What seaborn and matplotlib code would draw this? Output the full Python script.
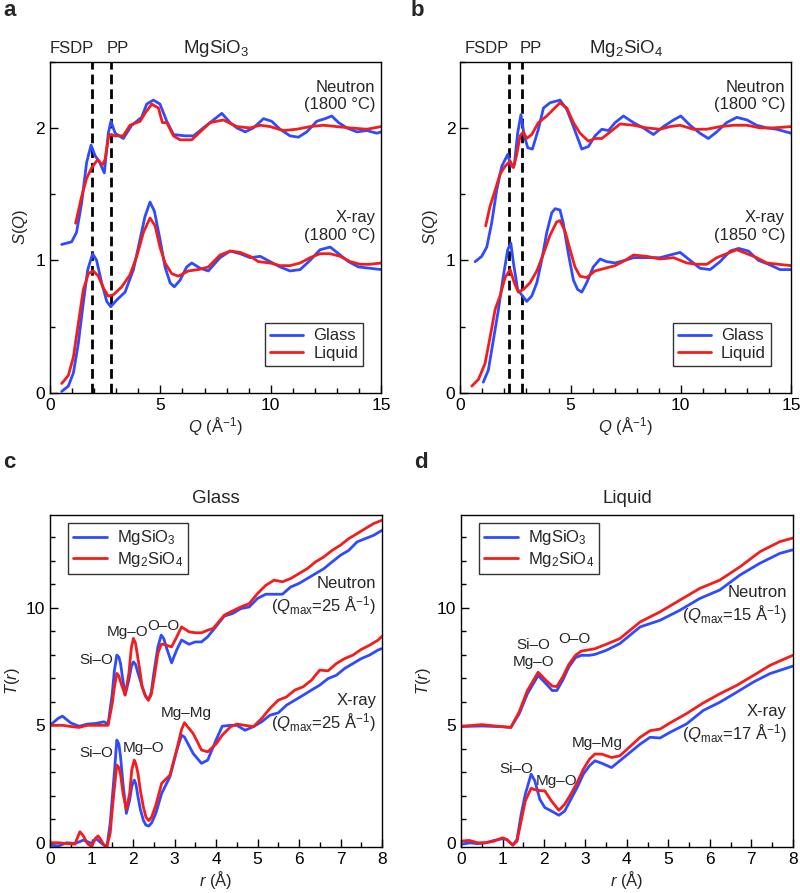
import matplotlib
matplotlib.use("Agg")
import matplotlib.pyplot as plt
from matplotlib.lines import Line2D
from matplotlib.ticker import MultipleLocator
import seaborn as sns

# ---------------- S(Q) : MgSiO3 (panel a) ----------------
a_neu_glass_q = [0.53, 0.98, 1.2, 1.43, 1.66, 1.86, 2.04, 2.22, 2.46, 2.64, 2.76, 2.95, 3.32, 3.7, 4.15, 4.38,
                 4.68, 4.98, 5.29, 5.59, 6.12, 6.5, 6.87, 7.25, 7.78, 8.16, 8.46, 8.84, 9.21, 9.67, 10.04,
                 10.42, 10.87, 11.25, 11.63, 12.08, 12.46, 12.76, 13.07, 13.44, 13.9, 14.35, 14.8, 15.0]
a_neu_glass_s = [1.12, 1.14, 1.21, 1.43, 1.74, 1.87, 1.79, 1.75, 1.66, 1.96, 2.05, 1.96, 1.92, 2.02, 2.08, 2.18,
                 2.21, 2.18, 2.05, 1.95, 1.94, 1.94, 1.99, 2.04, 2.11, 2.04, 2.0, 1.97, 2.0, 2.07, 2.05,
                 1.99, 1.94, 1.93, 1.97, 2.05, 2.07, 2.09, 2.04, 2.0, 1.97, 1.98, 1.96, 1.97]
a_neu_liq_q = [1.16, 1.43, 1.66, 1.89, 2.16, 2.37, 2.49, 2.67, 2.95, 3.32, 3.62, 4.08, 4.3, 4.61, 4.91, 5.09,
               5.29, 5.59, 5.89, 6.42, 6.8, 7.25, 7.85, 8.46, 9.06, 9.52, 9.97, 10.57, 11.17, 11.78, 12.38,
               12.99, 13.6, 14.35, 15.0]
a_neu_liq_s = [1.28, 1.48, 1.62, 1.70, 1.76, 1.72, 1.76, 1.95, 1.94, 1.94, 2.02, 2.05, 2.11, 2.18, 2.15, 2.04,
               2.04, 1.94, 1.91, 1.91, 1.97, 2.04, 2.06, 2.01, 2.0, 2.02, 2.01, 1.98, 1.99, 2.01, 2.02,
               2.01, 2.0, 1.99, 2.01]
a_xr_glass_q = [0.53, 0.83, 1.06, 1.28, 1.51, 1.71, 1.93, 2.11, 2.34, 2.57, 2.75, 3.02, 3.4, 3.78, 4.08, 4.3,
                4.53, 4.73, 4.98, 5.21, 5.44, 5.63, 5.89, 6.19, 6.42, 6.8, 7.17, 7.7, 8.16, 8.61, 9.06, 9.52,
                9.97, 10.42, 10.87, 11.33, 11.78, 12.23, 12.69, 13.07, 13.52, 13.97, 14.5, 15.0]
a_xr_glass_s = [0.01, 0.05, 0.15, 0.37, 0.68, 0.93, 1.05, 1.0, 0.83, 0.69, 0.65, 0.70, 0.76, 0.93, 1.16, 1.33,
                1.44, 1.37, 1.16, 0.95, 0.83, 0.80, 0.85, 0.95, 0.98, 0.94, 0.92, 1.02, 1.07, 1.05, 1.02, 1.03,
                0.99, 0.95, 0.92, 0.93, 1.0, 1.08, 1.10, 1.05, 0.99, 0.95, 0.94, 0.93]
a_xr_liq_q = [0.53, 0.83, 1.06, 1.28, 1.51, 1.74, 1.96, 2.19, 2.42, 2.64, 2.87, 3.25, 3.62, 3.93, 4.23, 4.53,
              4.76, 4.98, 5.21, 5.51, 5.81, 6.27, 6.72, 7.17, 7.7, 8.16, 8.61, 9.06, 9.44, 9.97, 10.42, 10.87,
              11.33, 11.78, 12.23, 12.69, 13.14, 13.6, 14.05, 14.5, 15.0]
a_xr_liq_s = [0.07, 0.13, 0.27, 0.52, 0.78, 0.90, 0.92, 0.88, 0.79, 0.73, 0.74, 0.80, 0.89, 1.03, 1.21, 1.32,
              1.26, 1.10, 0.98, 0.90, 0.88, 0.92, 0.93, 0.95, 1.04, 1.07, 1.06, 1.03, 0.99, 0.98, 0.96, 0.96,
              0.98, 1.02, 1.05, 1.05, 1.03, 0.99, 0.97, 0.97, 0.98]

# ---------------- S(Q) : Mg2SiO4 (panel b) ----------------
b_neu_glass_q = [0.67, 0.97, 1.2, 1.42, 1.65, 1.88, 2.15, 2.3, 2.45, 2.6, 2.75, 2.9, 3.06, 3.27, 3.54, 3.77,
                 4.07, 4.52, 4.83, 5.13, 5.51, 5.81, 6.11, 6.42, 6.72, 7.02, 7.4, 7.85, 8.3, 8.76, 9.21,
                 9.67, 10.0, 10.42, 10.87, 11.25, 11.63, 12.08, 12.54, 13.0, 13.44, 13.9, 14.35, 15.0]
b_neu_glass_s = [0.99, 1.03, 1.10, 1.28, 1.53, 1.71, 1.80, 1.71, 1.72, 1.96, 2.10, 1.94, 1.85, 1.84, 1.99, 2.15,
                 2.19, 2.21, 2.14, 2.01, 1.84, 1.86, 1.94, 1.99, 1.98, 2.04, 2.09, 2.04, 2.0, 1.95, 2.01,
                 2.06, 2.09, 2.02, 1.96, 1.92, 1.97, 2.04, 2.08, 2.06, 2.02, 2.0, 1.99, 1.96]
b_neu_liq_q = [1.15, 1.35, 1.58, 1.8, 2.03, 2.26, 2.41, 2.56, 2.71, 2.86, 3.01, 3.24, 3.54, 3.92, 4.22, 4.52,
               4.83, 5.13, 5.43, 5.81, 6.11, 6.42, 6.8, 7.25, 7.85, 8.45, 9.06, 9.51, 9.97, 10.57, 11.18,
               11.78, 12.39, 13.0, 13.6, 14.2, 15.0]
b_neu_liq_s = [1.26, 1.41, 1.53, 1.65, 1.71, 1.75, 1.70, 1.80, 1.94, 1.97, 1.92, 1.95, 2.04, 2.09, 2.14, 2.19,
               2.15, 2.04, 1.96, 1.90, 1.92, 1.92, 1.97, 2.03, 2.02, 2.0, 1.99, 2.01, 2.02, 1.99, 1.99,
               2.01, 2.02, 2.02, 2.0, 2.0, 2.01]
b_xr_glass_q = [1.04, 1.27, 1.5, 1.73, 1.95, 2.15, 2.29, 2.41, 2.6, 2.78, 3.01, 3.24, 3.47, 3.69, 3.92, 4.15,
                4.3, 4.52, 4.67, 4.9, 5.13, 5.32, 5.51, 5.73, 6.03, 6.34, 6.64, 7.02, 7.48, 7.85, 8.45, 9.06,
                9.51, 9.97, 10.42, 10.87, 11.33, 11.78, 12.24, 12.62, 13.07, 13.52, 13.98, 14.5, 15.0]
b_xr_glass_s = [0.08, 0.17, 0.40, 0.63, 0.88, 1.08, 1.13, 0.98, 0.78, 0.74, 0.69, 0.73, 0.83, 1.0, 1.21, 1.36,
                1.39, 1.38, 1.28, 1.05, 0.85, 0.78, 0.76, 0.83, 0.95, 1.01, 0.99, 0.98, 1.0, 1.02, 1.02, 1.02,
                1.04, 1.06, 1.0, 0.94, 0.93, 0.99, 1.07, 1.09, 1.07, 1.0, 0.97, 0.93, 0.93]
b_xr_liq_q = [0.52, 0.82, 1.12, 1.35, 1.58, 1.8, 2.03, 2.26, 2.45, 2.63, 2.86, 3.16, 3.47, 3.77, 4.07, 4.37,
              4.52, 4.75, 4.98, 5.2, 5.43, 5.73, 6.11, 6.57, 7.02, 7.48, 7.85, 8.45, 9.06, 9.67, 10.27, 10.72,
              11.18, 11.63, 12.08, 12.54, 13.0, 13.44, 13.9, 14.43, 15.0]
b_xr_liq_s = [0.05, 0.10, 0.22, 0.42, 0.63, 0.73, 0.87, 0.93, 0.83, 0.76, 0.78, 0.83, 0.92, 1.05, 1.19, 1.29,
              1.30, 1.22, 1.08, 0.95, 0.88, 0.87, 0.92, 0.94, 0.96, 1.0, 1.04, 1.03, 1.01, 1.02, 0.98, 0.97,
              0.97, 1.02, 1.05, 1.08, 1.05, 1.02, 0.98, 0.97, 0.96]

# ---------------- T(r) : glass (panel c) ----------------
c_r = [0.0, 0.2, 0.3, 0.5, 0.7, 0.9, 1.1, 1.3, 1.4, 1.5, 1.55, 1.61, 1.66, 1.7, 1.75, 1.81, 1.9, 1.96, 2.01,
       2.06, 2.1, 2.16, 2.22, 2.3, 2.37, 2.44, 2.5, 2.6, 2.68, 2.74, 2.8, 2.93, 3.05, 3.17, 3.35, 3.5, 3.65,
       3.8, 3.93, 4.2, 4.4, 4.6, 4.8, 5.0, 5.2, 5.4, 5.6, 5.8, 6.0, 6.2, 6.4, 6.6, 6.8, 7.0, 7.2, 7.4, 7.6,
       7.8, 8.0]
c_neu_mgsio3 = [5.0, 5.3, 5.39, 5.1, 4.96, 5.05, 5.08, 5.15, 5.05, 6.35, 7.3, 7.99, 7.9, 7.63, 7.0, 6.29, 6.92,
                7.5, 7.70, 7.6, 7.35, 7.0, 6.64, 6.25, 6.07, 6.4, 7.2, 8.34, 8.84, 8.7, 8.34, 7.66, 8.2, 8.63,
                8.45, 8.55, 8.55, 8.77, 9.05, 9.65, 9.76, 9.97, 10.04, 10.4, 10.58, 10.58, 10.58, 10.89,
                11.04, 11.25, 11.46, 11.67, 11.96, 12.24, 12.45, 12.81, 12.95, 13.09, 13.3]
c_neu_mg2sio4 = [5.0, 5.0, 5.0, 4.95, 4.91, 5.0, 5.0, 5.0, 5.0, 5.93, 6.6, 7.21, 7.1, 6.85, 6.6, 6.29, 7.2,
                 8.3, 8.7, 8.5, 8.06, 7.4, 6.64, 6.25, 6.07, 6.3, 6.92, 8.06, 8.45, 8.45, 8.41, 8.34, 8.75,
                 9.19, 8.98, 8.94, 8.94, 9.05, 9.12, 9.69, 9.87, 10.04, 10.18, 10.61, 10.96, 11.18, 11.11,
                 11.25, 11.46, 11.67, 11.96, 12.17, 12.45, 12.67, 12.95, 13.16, 13.38, 13.59, 13.73]
c_xr_r = [0.0, 0.2, 0.4, 0.6, 0.72, 0.8, 0.9, 1.0, 1.1, 1.16, 1.2, 1.3, 1.37, 1.45, 1.5, 1.55, 1.61, 1.66,
          1.7, 1.76, 1.84, 1.92, 1.97, 2.03, 2.07, 2.12, 2.18, 2.25, 2.31, 2.38, 2.45, 2.55, 2.69, 2.89, 3.05,
          3.17, 3.24, 3.45, 3.65, 3.8, 4.0, 4.15, 4.35, 4.5, 4.7, 4.9, 5.1, 5.3, 5.5, 5.7, 5.9, 6.1, 6.3, 6.5,
          6.7, 6.9, 7.1, 7.3, 7.5, 7.7, 7.9, 8.0]
c_xr_mgsio3 = [-0.1, -0.14, 0.0, -0.03, 0.05, 0.11, 0.05, -0.03, 0.18, 0.1, 0.04, -0.1, -0.17, 0.82, 1.9,
               2.95, 4.37, 4.2, 3.66, 2.5, 1.25, 1.82, 2.4, 2.67, 2.5, 1.96, 1.4, 0.96, 0.75, 0.71, 0.85,
               1.25, 2.1, 2.81, 3.9, 4.58, 4.5, 3.8, 3.38, 3.52, 4.37, 4.96, 5.0, 5.0, 4.79, 4.94, 5.15,
               5.43, 5.53, 5.86, 6.07, 6.28, 6.5, 6.71, 6.99, 7.13, 7.42, 7.63, 7.84, 7.99, 8.2, 8.27]
c_xr_mg2sio4 = [0.0, 0.0, -0.03, -0.06, 0.47, 0.3, -0.03, -0.17, 0.2, 0.29, 0.2, -0.1, -0.17, 0.4, 1.4, 2.3,
                3.31, 3.2, 2.9, 2.1, 1.42, 2.1, 3.1, 3.52, 3.35, 2.95, 2.2, 1.53, 1.1, 0.94, 1.1, 1.6,
                2.53, 2.88, 3.94, 4.82, 5.11, 4.65, 3.95, 3.87, 4.2, 4.58, 4.94, 5.05, 5.0, 4.94, 5.29,
                5.72, 6.07, 6.21, 6.5, 6.64, 6.92, 7.35, 7.32, 7.63, 7.84, 7.99, 8.23, 8.41, 8.62, 8.79]

# ---------------- T(r) : liquid (panel d) ----------------
d_neu_r = [0.0, 0.5, 1.0, 1.2, 1.4, 1.6, 1.86, 2.05, 2.2, 2.31, 2.45, 2.6, 2.76, 2.9, 3.1, 3.23, 3.5, 3.83, 4.32,
           4.8, 5.28, 5.76, 6.24, 6.73, 7.21, 7.69, 8.0]
d_neu_mgsio3 = [4.95, 4.97, 4.94, 4.91, 5.48, 6.34, 7.12, 6.77, 6.48, 6.48, 6.91, 7.48, 7.88, 7.98, 7.98, 8.02,
                8.19, 8.48, 9.19, 9.47, 9.9, 10.4, 10.76, 11.4, 11.9, 12.32, 12.47]
d_neu_mg2sio4 = [4.95, 5.03, 4.94, 4.91, 5.56, 6.48, 7.26, 6.91, 6.67, 6.65, 7.05, 7.59, 7.98, 8.16, 8.22, 8.26,
                 8.45, 8.69, 9.4, 9.83, 10.33, 10.83, 11.18, 11.75, 12.39, 12.82, 12.97]
d_xr_r = [0.0, 0.2, 0.4, 0.6, 0.8, 1.0, 1.1, 1.25, 1.35, 1.45, 1.55, 1.69, 1.78, 1.9, 2.02, 2.18, 2.36, 2.5,
          2.65, 2.8, 2.95, 3.1, 3.23, 3.4, 3.63, 3.83, 4.32, 4.56, 4.8, 5.04, 5.44, 5.84, 6.24, 6.65, 7.05,
          7.45, 8.0]
d_xr_mgsio3 = [-0.07, 0.0, -0.04, 0.0, 0.1, 0.17, 0.14, -0.1, 0.14, 1.21, 2.07, 2.92, 2.64, 1.85, 1.5, 1.35,
               1.17, 1.35, 1.85, 2.35, 2.92, 3.28, 3.49, 3.38, 3.2, 3.49, 4.2, 4.49, 4.46, 4.7, 5.06, 5.63,
               5.98, 6.41, 6.84, 7.2, 7.52]
d_xr_mg2sio4 = [0.07, 0.1, 0.0, 0.0, 0.07, 0.21, 0.14, -0.1, 0.07, 0.93, 1.78, 2.32, 2.26, 2.22, 2.21, 1.78,
                1.38, 1.64, 2.07, 2.56, 3.13, 3.56, 3.78, 3.77, 3.63, 3.7, 4.49, 4.77, 4.84, 5.1, 5.5, 5.95,
                6.34, 6.7, 7.12, 7.55, 7.98]

BLUE = "#2e4bff"
RED = "#f51c1c"
LW = 2.0

sns.set_theme(style="ticks")
plt.rcParams["font.family"] = ["Liberation Sans", "DejaVu Sans"]
plt.rcParams["mathtext.fontset"] = "custom"
plt.rcParams["mathtext.rm"] = "Liberation Sans"
plt.rcParams["mathtext.it"] = "Liberation Sans:italic"
plt.rcParams["axes.edgecolor"] = "black"
plt.rcParams["axes.linewidth"] = 1.0
plt.rcParams["lines.solid_joinstyle"] = "round"

fig = plt.figure(figsize=(8.0, 8.93), dpi=100)
ax_a = fig.add_axes([0.0625, 0.5602, 0.414, 0.3707])
ax_b = fig.add_axes([0.5754, 0.5602, 0.4134, 0.3707])
ax_c = fig.add_axes([0.0625, 0.0518, 0.415, 0.3714])
ax_d = fig.add_axes([0.5763, 0.0518, 0.4146, 0.3714])


def line(ax, x, y, color):
    sns.lineplot(x=x, y=y, ax=ax, color=color, lw=LW, estimator=None, sort=False)


def style_axes(ax, xmaj, xmin, ymaj, ymin):
    ax.xaxis.set_major_locator(MultipleLocator(xmaj))
    ax.xaxis.set_minor_locator(MultipleLocator(xmin))
    ax.yaxis.set_major_locator(MultipleLocator(ymaj))
    ax.yaxis.set_minor_locator(MultipleLocator(ymin))
    ax.tick_params(which="both", direction="in", colors="black", labelsize=12.5,
                   bottom=True, left=True, top=False, right=False)
    ax.tick_params(which="major", length=6, width=1.0)
    ax.tick_params(which="minor", length=3.5, width=1.0)
    for s in ax.spines.values():
        s.set_color("black")
        s.set_linewidth(1.0)


tk = dict(fontsize=12, ha="right", va="center", multialignment="right")

# ---- panels a and b ----
sq_sets = [
    (ax_a, "MgSiO$_3$", (a_neu_glass_q, a_neu_glass_s), (a_neu_liq_q, a_neu_liq_s),
     (a_xr_glass_q, a_xr_glass_s), (a_xr_liq_q, a_xr_liq_s), (1.92, 2.76), (1.99, 2.58), "1800", 0.946),
    (ax_b, "Mg$_2$SiO$_4$", (b_neu_glass_q, b_neu_glass_s), (b_neu_liq_q, b_neu_liq_s),
     (b_xr_glass_q, b_xr_glass_s), (b_xr_liq_q, b_xr_liq_s), (2.22, 2.81), (2.2, 2.71), "1850", 0.9386),
]
for ax, title, ng, nl, xg, xl, dashes, lab_x, xtemp, leg_x in sq_sets:
    for d in dashes:
        ax.axvline(d, color="black", lw=2.0, ls=(0, (3.5, 1.8)), zorder=1)
    line(ax, ng[0], ng[1], BLUE)
    line(ax, nl[0], nl[1], RED)
    line(ax, xg[0], xg[1], BLUE)
    line(ax, xl[0], xl[1], RED)
    ax.set_xlim(0, 15)
    ax.set_ylim(0, 2.5)
    style_axes(ax, 5, 1, 1, 0.5)
    ax.set_xlabel(r"$\mathit{Q}$ (Å$^{-1}$)", fontsize=12, labelpad=2)
    ax.set_ylabel(r"$\mathit{S}$($\mathit{Q}$)", fontsize=12, labelpad=4)
    ax.text(0.5, 1.041, title, transform=ax.transAxes, ha="center", va="center", fontsize=13.5)
    ax.text(lab_x[0], 2.6, "FSDP", ha="right", va="center", fontsize=12, clip_on=False)
    ax.text(lab_x[1], 2.6, "PP", ha="left", va="center", fontsize=12, clip_on=False)
    ax.text(14.73, 2.24, "Neutron\n(1800 °C)", **tk)
    ax.text(14.73, 1.256, "X-ray\n(%s °C)" % xtemp, **tk)
    handles = [Line2D([], [], color=BLUE, lw=LW), Line2D([], [], color=RED, lw=LW)]
    leg = ax.legend(handles, ["Glass", "Liquid"], loc="lower right", bbox_to_anchor=(leg_x, 0.081),
                    borderaxespad=0, fontsize=12, frameon=True, fancybox=False, handlelength=2.0,
                    handletextpad=0.6, borderpad=0.3, labelspacing=0.15)
    leg.get_frame().set_edgecolor("black")
    leg.get_frame().set_linewidth(1.0)

# ---- panels c and d ----
tr_sets = [
    (ax_c, "Glass", (c_r, c_neu_mgsio3, c_neu_mg2sio4), (c_xr_r, c_xr_mgsio3, c_xr_mg2sio4),
     "25", "25", (10.49, 5.52)),
    (ax_d, "Liquid", (d_neu_r, d_neu_mgsio3, d_neu_mg2sio4), (d_xr_r, d_xr_mgsio3, d_xr_mg2sio4),
     "15", "17", (10.09, 5.03)),
]
for ax, title, neu, xr, qn, qx, ys in tr_sets:
    line(ax, neu[0], neu[1], BLUE)
    line(ax, neu[0], neu[2], RED)
    line(ax, xr[0], xr[1], BLUE)
    line(ax, xr[0], xr[2], RED)
    ax.set_xlim(0, 8)
    ax.set_ylim(-0.17, 13.95)
    style_axes(ax, 1, 0.5, 5, 1)
    ax.set_xlabel(r"$\mathit{r}$ (Å)", fontsize=12, labelpad=2)
    ax.set_ylabel(r"$\mathit{T}$($\mathit{r}$)", fontsize=12, labelpad=3)
    ax.text(0.5, 1.05, title, transform=ax.transAxes, ha="center", va="center", fontsize=13.5)
    ax.text(7.86, ys[0], "Neutron\n" + r"($\mathit{Q}_{\rm max}$=%s Å$^{-1}$)" % qn, **tk)
    ax.text(7.86, ys[1], "X-ray\n" + r"($\mathit{Q}_{\rm max}$=%s Å$^{-1}$)" % qx, **tk)
    handles = [Line2D([], [], color=BLUE, lw=LW), Line2D([], [], color=RED, lw=LW)]
    leg = ax.legend(handles, ["MgSiO$_3$", "Mg$_2$SiO$_4$"], loc="upper left", bbox_to_anchor=(0.055, 0.975),
                    borderaxespad=0, fontsize=12, frameon=True, fancybox=False, handlelength=2.0,
                    handletextpad=0.6, borderpad=0.3, labelspacing=0.15)
    leg.get_frame().set_edgecolor("black")
    leg.get_frame().set_linewidth(1.0)

pk = dict(fontsize=11, ha="center", va="center")
ax_c.text(1.12, 7.8, "Si–O", **pk)
ax_c.text(1.86, 8.98, "Mg–O", **pk)
ax_c.text(2.73, 9.22, "O–O", **pk)
ax_c.text(1.12, 3.83, "Si–O", **pk)
ax_c.text(2.25, 4.02, "Mg–O", **pk)
ax_c.text(3.29, 5.53, "Mg–Mg", **pk)

ax_d.text(1.74, 8.41, "Si–O", **pk)
ax_d.text(1.74, 7.69, "Mg–O", **pk)
ax_d.text(2.73, 8.66, "O–O", **pk)
ax_d.text(3.29, 4.25, "Mg–Mg", **pk)
ax_d.text(1.33, 3.14, "Si–O", **pk)
ax_d.text(2.31, 2.61, "Mg–O", **pk)

for lbl, x, y in [("a", 0.004, 0.988), ("b", 0.513, 0.988), ("c", 0.004, 0.482), ("d", 0.518, 0.482)]:
    fig.text(x, y, lbl, fontsize=16, fontweight="bold", ha="left", va="center")

fig.savefig("out.png", dpi=100)
